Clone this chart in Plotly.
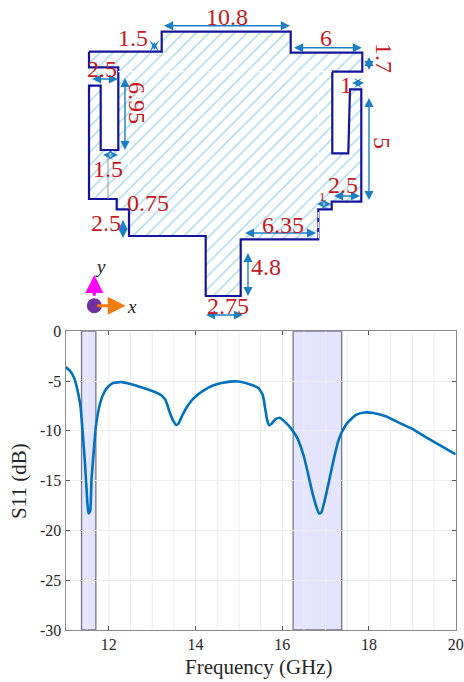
import plotly.graph_objects as go

# S11 curve
freq_ghz = [11.0,11.1,11.2,11.3,11.35,11.4,11.45,11.5,11.53,11.57,11.6,11.65,11.7,11.8,11.9,12.0,12.1,12.3,12.5,12.8,13.0,13.2,13.3,13.35,13.4,13.5,13.55,13.6,13.7,13.8,13.9,14.0,14.1,14.2,14.4,14.6,14.8,15.0,15.3,15.45,15.55,15.6,15.65,15.7,15.75,15.85,15.95,16.05,16.2,16.35,16.5,16.6,16.7,16.8,16.85,16.9,17.0,17.1,17.2,17.3,17.4,17.5,17.7,17.9,18.1,18.4,18.7,19.0,19.3,19.6,20.0]
s11_db = [-3.6,-3.95,-4.7,-6.4,-7.7,-10.4,-13.3,-16.9,-18.3,-18.0,-14.9,-12.1,-9.6,-7.2,-6.05,-5.5,-5.2,-5.1,-5.3,-5.7,-6.0,-6.4,-6.85,-7.4,-8.1,-9.1,-9.4,-9.3,-8.4,-7.6,-7.0,-6.55,-6.2,-5.9,-5.45,-5.2,-5.05,-5.05,-5.4,-5.7,-6.4,-7.6,-8.9,-9.45,-9.3,-8.8,-8.7,-9.05,-9.75,-10.75,-12.6,-14.4,-16.3,-17.8,-18.3,-18.2,-16.6,-14.6,-12.6,-10.9,-9.9,-9.2,-8.4,-8.15,-8.2,-8.55,-9.2,-9.8,-10.6,-11.35,-12.35]
bands_ghz = [(11.37, 11.70), (16.25, 17.37)]
x_ticks = [12, 14, 16, 18, 20]
y_ticks = [0, -5, -10, -15, -20, -25, -30]
x_grid = [11.5, 12, 12.5, 13, 13.5, 14, 14.5, 15, 15.5, 16, 16.5, 17, 17.5, 18, 18.5, 19, 19.5]

# Antenna outline, in the diagram's own drawing units
outline_x = [89,161.7,161.7,290.7,290.7,362.3,362.3,332.3,332.3,348.3,350,361.3,361.3,331.7,331.7,318.3,318.3,240.7,240.7,205.7,205.7,129,129,116.7,116.7,89,89,100.7,100.7,118.3,118.3,89,89]
outline_y = [51.7,51.7,31.7,31.7,52.7,52.7,71.7,71.7,153.3,153.3,89.3,89.3,201.7,201.7,209.3,209.3,239.3,239.3,296,296,236,236,209.3,209.3,199,199,85.7,85.7,150,150,67.3,67.3,51.7]

# Dimension labels: text, x, y, size, angle
dim_labels = [("10.8",227,17,24,0),("1.5",133,38,24,0),("2.5",102,69,24,0),("6.95",137,103,24,90),
    ("1.5",108,169,24,0),("6",326,38,24,0),("1.7",384,58,24,90),("1",346,85,24,0),("5",382,143,24,90),
    ("2.5",343,185,24,0),("1",322,196,13,0),("6.35",283,225,24,0),("4.8",266,267,24,0),("2.75",228,306,24,0),
    ("0.75",148,203,24,0),("2.5",106,223,24,0)]
# Dimension arrows: x0, y0, x1, y1, hollow
dim_arrows = [(161,25.7,290,25.7,0),(154.3,32,154.3,50,1),(89,79,118,79,0),(125,68,125,150,0),(100,155,118,155,1),
    (291,47.7,362,47.7,0),(369,47,369,70,0),(349,83,364,83,1),(369,88,369,200,0),(331,196,360,196,0),
    (314,204,331,204,1),(242,233,316,233,0),(248,243,248,296,0),(203,315,243,315,0),(122,198,122,209,1),(123,210,123,238,0)]
guide_lines = [(118,71.7,332,71.7),(318.3,72,318.3,239),(129,150,129,209)]

W, H = 464, 682
L, R, T, B = 65.5, 455.7, 331.3, 630
fig = go.Figure()

for a, b in bands_ghz:
    fig.add_shape(type="rect", xref="x", yref="y", x0=a, x1=b, y0=-30, y1=0,
                  fillcolor="#e4e4fe", line=dict(color="#77778a", width=1.3), layer="below")

fig.add_trace(go.Scatter(x=freq_ghz, y=s11_db, mode="lines", xaxis="x", yaxis="y",
                         line=dict(color="#0072BD", width=2.6, shape="spline", smoothing=0.5), hoverinfo="skip"))

fig.add_trace(go.Scatter(x=outline_x, y=outline_y, mode="lines", xaxis="x2", yaxis="y2", fill="toself",
                         fillcolor="white",
                         fillpattern=dict(shape="/", size=9, solidity=0.2, fgcolor="#6dbcd6", bgcolor="white"),
                         line=dict(color="#14149a", width=2.2), hoverinfo="skip"))
for x0, y0, x1, y1 in guide_lines:
    fig.add_trace(go.Scatter(x=[x0, x1], y=[y0, y1], mode="lines", xaxis="x2", yaxis="y2",
                             line=dict(color="white", width=1.2, dash="6px,4px"), hoverinfo="skip"))
fig.add_trace(go.Scatter(x=[108, 108], y=[155, 199], mode="lines", xaxis="x2", yaxis="y2",
                         line=dict(color="#999999", width=1), hoverinfo="skip"))
fig.add_trace(go.Scatter(x=[94.3], y=[305.7], mode="markers", xaxis="x2", yaxis="y2",
                         marker=dict(size=15, color="#7030a0"), hoverinfo="skip"))

ann = []
for x0, y0, x1, y1, hollow in dim_arrows:
    ann.append(dict(x=x1, y=y1, ax=x0, ay=y0, xref="x2", yref="y2", axref="x2", ayref="y2",
                    showarrow=True, arrowside="end+start", arrowhead=3 if hollow else 2,
                    arrowsize=1.7 if hollow else 1.3, arrowwidth=1 if hollow else 1.4,
                    arrowcolor="#1a7fc4"))
for t, x, y, size, ang in dim_labels:
    ann.append(dict(text=t, x=x, y=y, xref="x2", yref="y2", showarrow=False, textangle=ang,
                    font=dict(family="Liberation Serif", size=size, color="#c8171e")))
ann.append(dict(x=94.3, y=275, ax=94.3, ay=305.7, xref="x2", yref="y2", axref="x2", ayref="y2", showarrow=True,
                arrowhead=2, arrowsize=1.2, arrowwidth=3, arrowcolor="#ff00ff"))
ann.append(dict(x=125.7, y=305.7, ax=94.3, ay=305.7, xref="x2", yref="y2", axref="x2", ayref="y2", showarrow=True,
                arrowhead=2, arrowsize=1.2, arrowwidth=3, arrowcolor="#f07c12"))
ann.append(dict(text="<i>y</i>", x=100, y=266, xref="x2", yref="y2", showarrow=False,
                font=dict(family="Liberation Serif", size=19, color="#222222")))
ann.append(dict(text="<i>x</i>", x=132, y=306, xref="x2", yref="y2", showarrow=False,
                font=dict(family="Liberation Serif", size=19, color="#222222")))
ann.append(dict(text="Frequency (GHz)", x=259, y=667, xref="x2", yref="y2", showarrow=False,
                font=dict(family="Liberation Serif", size=21, color="#262626")))
ann.append(dict(text="S11 (dB)", x=19, y=481, xref="x2", yref="y2", showarrow=False, textangle=-90,
                font=dict(family="Liberation Serif", size=21, color="#262626")))

fig.update_layout(
    width=W, height=H, margin=dict(l=0, r=0, t=0, b=0, autoexpand=False), autosize=False, showlegend=False,
    paper_bgcolor="white", plot_bgcolor="rgba(0,0,0,0)", annotations=ann,
    xaxis=dict(domain=[L / W, R / W], range=[11, 20], tickvals=x_ticks, ticktext=[str(v) for v in x_ticks],
               ticks="inside", ticklen=4, tickcolor="#555555", showgrid=False, zeroline=False, mirror="ticks",
               showline=True, linecolor="#8a8a8a", linewidth=1, automargin=False,
               tickfont=dict(family="Liberation Serif", size=16, color="#262626"), anchor="y"),
    yaxis=dict(domain=[(H - B) / H, (H - T) / H], range=[-30, 0], tickvals=y_ticks, ticktext=[str(v) for v in y_ticks],
               ticks="inside", ticklen=4, tickcolor="#555555", gridcolor="#ececec", zeroline=False, mirror="ticks",
               showline=True, linecolor="#8a8a8a", linewidth=1, automargin=False,
               tickfont=dict(family="Liberation Serif", size=16, color="#262626"), anchor="x"),
    xaxis2=dict(domain=[0, 1], range=[0, W], visible=False, anchor="y2", fixedrange=True, automargin=False),
    yaxis2=dict(domain=[0, 1], range=[H, 0], visible=False, anchor="x2", fixedrange=True, automargin=False),
    shapes=list(fig.layout.shapes) + [
        dict(type="line", xref="x", yref="y", x0=v, x1=v, y0=-30, y1=0, layer="below",
             line=dict(color="#ececec", width=1)) for v in x_grid],
)
fig.write_html("out.html", config={"displayModeBar": False},
               post_script="document.body.style.margin='0';document.documentElement.style.overflow='hidden';")
